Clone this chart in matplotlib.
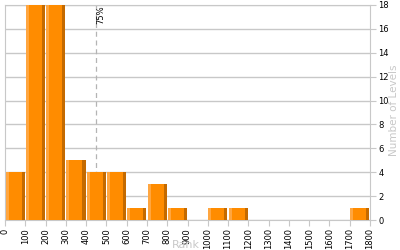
import numpy as np
import matplotlib.pyplot as plt

# Datos del histograma (rango -> número de niveles)
bin_starts = np.arange(0, 1800, 100)
counts = [4, 18, 18, 5, 4, 4, 1, 3, 1, 0, 1, 1, 0, 0, 0, 0, 0, 1]
pct75 = 450
x_ticks = np.arange(0, 1801, 100)
y_ticks = np.arange(0, 19, 2)

fig = plt.figure(figsize=(4, 2.5), dpi=100)
ax = fig.add_axes([0.0125, 0.12, 0.9125, 0.86])

grid_col = '#c8c8c8'
w = 94
stripe = 15
ax.bar(bin_starts + 3, counts, width=w, align='edge', color='#ff8c00', zorder=3)
ax.bar(bin_starts + 3, counts, width=stripe, align='edge', color='#ffa640', zorder=4)
ax.bar(bin_starts + 3 + w - stripe, counts, width=stripe, align='edge', color='#c46a00', zorder=4)

# Línea del percentil 75
ax.axvline(pct75, color='#b4b4b4', linestyle=(0, (4, 3)), linewidth=0.9, zorder=2)
ax.text(pct75 + 2, 18, '75%', rotation=90, fontsize=6, ha='left', va='top', zorder=5)

ax.set_xlim(0, 1800)
ax.set_ylim(0, 18)
ax.set_xticks(x_ticks)
ax.set_xticklabels([str(t) for t in x_ticks], rotation=90, fontsize=6)
ax.yaxis.tick_right()
ax.set_yticks(y_ticks)
ax.tick_params(axis='y', labelsize=6, length=4, color=grid_col, pad=2)
ax.tick_params(axis='x', length=4, color=grid_col, pad=2)
ax.grid(axis='y', color=grid_col, linewidth=1, zorder=0)
for s in ax.spines.values():
    s.set_color(grid_col)

fig.text(0.985, 0.56, 'Number of Levels', color='#c8c8c8', fontsize=7.5,
         rotation=90, ha='center', va='center')
fig.text(0.465, 0.0, 'Rank', color='#c8c8c8', fontsize=8, ha='center', va='bottom')

fig.savefig('out.png', dpi=100)
